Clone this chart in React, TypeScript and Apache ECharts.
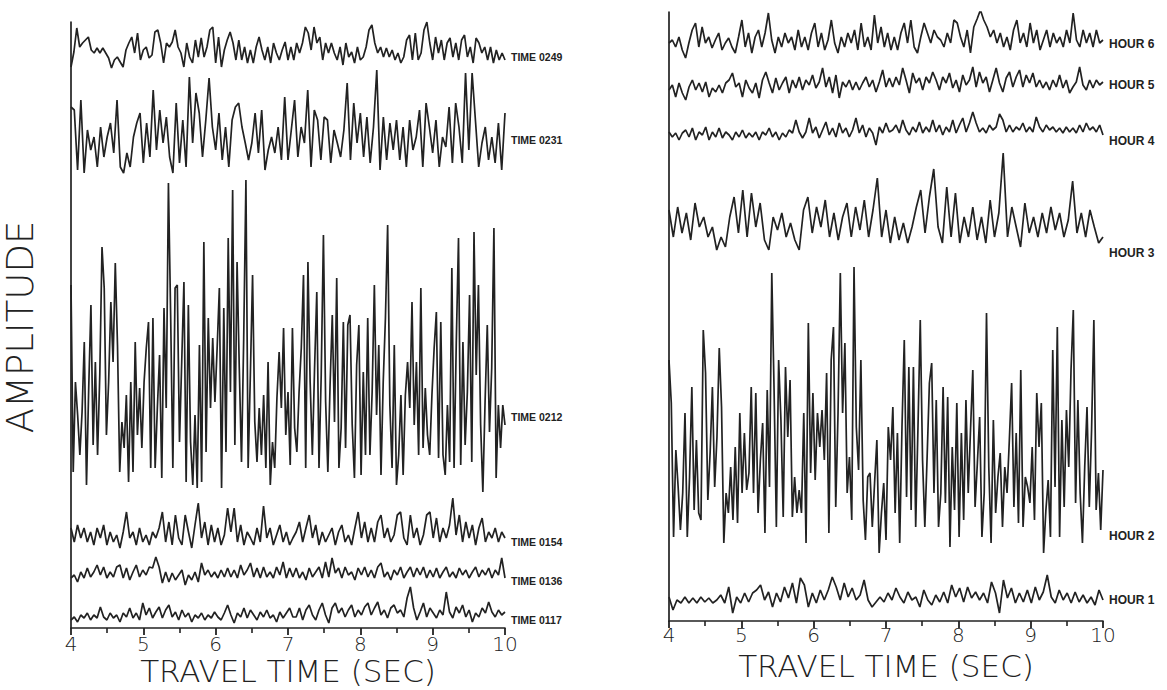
import React, { useEffect, useRef } from "react";
import * as echarts from "echarts";

// Travel time range (seconds)
const T_MIN = 4;
const T_MAX = 10;

// Left panel traces (amplitude readings, evenly spaced over 4-10 s)
const time0249 = [-10, 5, 29, 10, 14, 17, 20, 7, 4, 9, 4, 9, 4, -1, -11, -3, 0, -5, -10, 7, 14, 20, 4, 24, -3, 7, 10, -1, 2, 25, 27, 14, -6, 14, 10, 15, 27, 10, 4, -10, 14, 0, -6, 17, 0, 19, 0, 10, 27, 30, -6, 20, -10, 7, 17, 25, 14, -3, 17, -3, 10, -6, 7, -6, 10, 20, 7, -3, 10, -6, 14, 4, -3, 7, 15, -3, 10, -3, 14,
  4, 14, 30, 24, 7, 30, 14, 20, -3, 14, 4, 14, 4, -3, 10, -8, 14, 0, 5, -6, 10, -3, 0, 10, 27, 32, 14, 4, 10, 0, 9, 0, 7, -3, 4, -6, 0, 17, 22, -3, 24, -3, 4, 27, 35, 14, -3, 20, 4, 17, -3, 14, 19, 0, 14, -3, 17, 22, 0, 10, -6, 19, 14, 4, 10, -3, 10, -6, 7, -3, 4, -3];
const time0231 = [33, 30, -30, 40, -33, 10, -10, 3, -27, 13, -17, 3, 17, -13, 40, -27, -33, -13, -27, 3, 17, 27, -23, 17, -17, 50, -10, 30, -3, 23, -17, -33, 37, -23, 20, -27, 63, -3, 47, 27, -17, 20, 62, 13, -10, 27, -20, 13, -27, 20, 33, 37, 13, -3, -20, -3, 27, -13, 30, -30, -10, 3, -13, 13, -20, 43, -20, 10,
  40, -17, 13, -3, 50, -27, 30, 20, -20, 23, 20, -23, 10, -3, -17, 10, 57, -20, 37, -3, 27, -17, 23, -23, 13, 70, -30, 23, -20, 17, -10, 20, -20, 13, -27, 20, -10, 3, 30, -27, 37, 13, -13, 20, -27, 3, -7, 33, -23, 37, 13, -23, 67, -10, 67, 20, -27, -3, 13, -20, 3, -23, 17, -30, 27];
const time0212 = [132, -55, 35, 2, -38, 5, 75, -68, 29, 112, -28, 55, -38, 42, 170, 129, -18, 35, 115, 55, 154, 72, -55, -5, -31, 22, -65, 35, -55, 75, -18, 29, -31, 35, 69, 95, -51, 99, -51, 9, 62, -61, 109, 9, 234, 102, -51, 129, 132, -25, 55, 135, -65, 112, -25, -68, 2, -71, 72, -65, 175, -35, 99, 9, 79, 15, 69, 129, -71, 109, -35, 179, 25, 227, -28, 155, 49, -45, 79, 237, -51, 42, 142, -5, -45, 9, -38, 22, -51, 55, -68, -25, -51, 19, 65, 9, 89, -18, 25, -48,
  89, -11, -35, 25, 69, 142, -51, 155, 35, -38, 49, 125, -51, 42, 182, 15, -55, 32, 102, -5, 139, -51, -11, 95, -31, 92, 102, -8, -61, 52, 92, -58, 45, -38, 99, -38, 25, 132, 2, 72, -58, 35, 99, 192, 12, -51, 72, -68, -38, 22, -58, 22, 55, 9, 115, -8, 55, -38, 129, -31, 29, -18, -38, 22, 69, 105, -41, 95, -38, -58, 12, -45, 149, -51, 75, 179, -48, 75, -28, 25, 122, -45, 185, 42, 132, -8, -75, 15, 92, -15, 49, 189, -61, 12, -31, 12, -8];
const time0154 = [14, 0, 17, 4, 14, 0, 10, -3, 14, 4, 17, -3, 10, 0, 7, -6, 10, 30, 4, 10, -3, 14, 0, 7, -3, 10, 4, 14, 30, 0, 20, -3, 27, 4, -3, 27, 10, -6, 17, 39, 4, 20, -3, 17, 0, 14, -3, 7, 34, 10, 34, 0, 17, -3, 10, 4, -3, 14, 0, 36, 4, 14, -3, 7, 17, 0, 10, -3, 4,
  10, 20, 0, 14, 27, 4, 17, -3, 10, 0, 7, 14, -3, 10, 17, 0, 7, -3, 14, 30, 4, 20, 0, 14, 0, 20, 27, 4, 14, 0, 7, 27, 30, 4, -3, 27, 4, 14, -3, 7, 27, 30, 4, 24, 0, 14, 4, 17, 44, 7, 27, 0, 20, 4, 17, -3, 14, 24, 0, 10, 4, 14, 0, 10, 4];
const time0136 = [3, 6, -1, 9, 3, 13, 4, 9, 16, 6, 14, 3, 9, 4, 14, 16, 3, 13, 1, 9, 16, 4, 11, 6, 14, 13, 24, 14, -2, 9, -1, 8, 1, 6, 11, -4, 6, 1, 9, -1, 18, 6, 11, 4, 9, 3, 11, 4, 13, 4, 11, 3, 16, 6, 11, 18, 4, 13, 3, 14, 4, 9, 3, 14, 6, 19, 3, 13, 4,
  13, 3, 9, 1, 13, 4, 9, 14, 3, 19, 4, 23, 8, 13, 3, 14, 6, 9, 1, 13, 6, 14, 4, 11, 3, 14, 18, 4, 9, 1, 11, 6, 14, 3, 9, 14, 4, 13, 6, 14, 3, 11, 4, 13, 3, 9, 14, 4, 9, 3, 13, 6, 11, 3, 9, 14, 4, 11, 6, 13, 3, 11, 6, 23, 3];
const time0117 = [0, 3, -2, 5, 2, 7, 0, 5, 2, 13, 3, 0, 7, 2, 5, -2, 7, 3, 12, 2, 7, 0, 17, 5, 12, 2, 8, 13, 2, 10, 15, 3, 8, 0, 10, 3, 7, -2, 5, 2, 7, 0, 5, 2, 8, 3, 0, 7, 15, 5, -3, 7, 3, 12, 2, 10, 5, 0, 8, 3, 10, 2, 5, -2, 8, 2, 7, 12, 3,
  3, 12, 0, 10, 15, 5, 0, 10, 17, 5, -3, 12, 17, 7, 12, 3, 10, 15, 3, 10, 5, 13, 17, 5, 12, 18, 5, 10, 2, 12, 15, 7, 10, 3, 22, 33, 12, 0, 8, 17, 3, 12, 7, 2, 10, 5, 28, 8, 2, 13, 7, 15, 3, 10, -2, 7, 3, 12, 7, 18, 8, 3, 10, 5, 8];

// Right panel traces
const hour6 = [1, 4, -3, 7, -6, -14, 1, 14, 21, -3, 17, 1, 7, -4, 4, 11, -6, 1, 6, -3, -9, 7, 24, -3, 11, -9, 7, 14, -3, 11, 31, 4, -9, 7, -3, 11, 1, 7, -6, 14, -3, 7, -6, 11, 21, -3, 11, -6, 4, 24, 1, -9, 7, -3, 11, 1, 14, -6, 21, -3, 7, -6, 29, 1, 17, -3, 11, -6,
  7, -6, 11, 21, 1, 24, -3, -9, 7, 21, 11, 1, 14, 7, 4, -3, 11, 1, 24, 21, 7, -3, 14, -9, 17, 25, 34, 24, 17, 7, 14, 1, 11, -3, 7, -6, 14, 24, 1, 11, -3, 21, 1, 14, -6, 4, 14, -3, 11, 1, 7, -3, 14, 1, 31, 4, -3, 14, 1, 11, -3, 14, 1, 4];
const hour5 = [-5, 0, -12, 2, -8, -15, -2, 5, -5, 2, -7, 3, -12, -3, -7, 0, -8, 2, 5, 12, -2, 2, -12, 5, -3, -8, 2, -13, 5, 13, 2, -8, 7, -5, 2, 8, -8, 5, -3, 8, -5, 5, 0, 10, -3, 3, 17, -2, 8, -8, 10, -13, 3, -2, 5, -5, 3, -5, 2, 8, -2, 5, -7, 3, 15, -2, 7,
  -2, 8, 0, 17, 5, -8, 12, 2, 7, -5, 8, 2, 13, 5, -5, 8, 2, 12, -3, 5, -7, 10, 0, 5, 18, -2, 13, 2, 8, -7, 5, 17, 2, -7, 7, 13, -2, 8, 15, -2, 10, 2, 12, -2, 5, -3, 3, -5, 5, -2, 10, -3, 5, -8, -2, 3, 18, 0, -5, 5, -3, 5, 0, 3];
const hour4 = [9, 4, 8, 1, 8, 11, 4, 13, 1, 9, 6, 14, 1, 9, 4, 13, 3, 9, 6, 1, 9, 4, 11, 3, 8, 4, 9, 1, 9, 6, 13, 4, 9, 1, 8, 4, 11, 8, 21, 9, 3, 9, 23, 8, 14, 3, 11, 19, 6, 13, 4, 18, 8, 13, 4, 11, 23, 8, 16, 4, 13, 8, -4, 14, 8, 18, 9,
  11, 16, 8, 21, 11, 6, 14, 9, 19, 8, 14, 9, 21, 9, 16, 6, 14, 9, 21, 8, 16, 23, 9, 18, 29, 18, 9, 13, 8, 16, 11, 14, 27, 21, 9, 16, 9, 14, 11, 18, 9, 14, 9, 24, 14, 9, 16, 11, 14, 9, 13, 8, 14, 9, 13, 8, 16, 9, 18, 11, 14, 9, 16, 6];
const hour3 = [43, 16, 46, 20, 40, 13, 50, 26, 36, 16, 26, 3, 16, 6, 36, 56, 20, 63, 16, 60, 26, 50, 13, 3, 36, 23, 40, 16, 30, 13, 3, 43, 56, 20, 46, 26, 53, 16, 40, 13, 36, 50, 16, 46, 23, 53, 16, 43, 75, 16, 43, 10, 36, 13, 30, 10, 26, 46, 63, 20, 56, 84, 26, 10, 66, 16, 60, 10, 36, 16, 46, 13, 36, 10, 53, 16, 40, 100, 16, 46, 26, 6, 50, 20, 36, 16, 40, 20, 46, 23, 40, 16, 33, 72, 20, 40, 16, 43, 26, 10, 16];
const hour2 = [176, 133, -1, 86, 49, 6, 43, 123, -1, 59, 149, 26, 96, 23, 16, 206, 163, 36, 83, 149, 49, 99, 188, 129, -7, 43, 23, 69, 16, 89, 13, 123, 43, 103, 46, 63, 149, 43, 143, 23, 76, 113, 3, 146, 49, 263, 146, 9, 176, 116, 19, 169, 99, 156, 19, 59, 23, 46, 23, 123, -7, 213, 63, 143, 56, 123, 89, 126, 76, 163, 3, 176, 209, 29, 123, 263, 123, 193, 43, 79, 16, 269, 109, 66, 176, 36, -4, 59, 63, 9, 53, 96, -17, 23, 53, -4, 109, 76, 129, 23, 103, -7,
  109, 196, 39, 169, 26, 169, 9, 109, 216, 76, 9, 79, 153, 173, 43, 136, 9, 43, 149, 33, 139, -11, 89, 26, 133, -1, 103, 16, 136, 43, 106, 166, 29, 73, 119, -1, 43, 223, 69, -7, 116, 23, 59, 83, 9, 69, 43, 96, 153, 29, 103, 13, 166, 9, 59, 49, 33, 89, 16, 143, 89, 133, -17, 26, 56, -1, 186, 49, 209, -1, 116, 29, 126, 69, 166, 226, 33, 136, 43, -7, 69, 129, 29, 106, 216, 26, 63, 6, 66];
const hour1 = [3, -10, 0, -3, 3, -3, 2, -3, 3, -2, 2, -3, 0, 5, -3, 13, -13, 3, -3, 7, -2, 7, 10, 15, 0, 8, -7, 7, -2, 13, 2, 17, -3, 22, 15, -7, 7, -3, 10, 0, 10, 23, 13, 0, 17, 3, 12, 0, 5, 20, 0, -7, -2, 3, -2, 7, 0, 12, 3, -3, 8, 0, 3, -7, 10, 0, -5, 5, -2, 8, -3, 15, 3, 12, -2, 13, 2, 8, 0, 7, -3, 18, 7, -13, 20, 2, 12, -3, 7, -2, 10, -3, 13, 0, 8, 25, 3, -3, 10, 0, 7, -3, 8, -2, 5, -3, 3, -5, 10, 0];

const leftTraces = [time0249, time0231, time0212, time0154, time0136, time0117];
const leftNames = ["TIME 0249", "TIME 0231", "TIME 0212", "TIME 0154", "TIME 0136", "TIME 0117"];
const leftBaselines = [571, 488, 211, 86, 47, 8];
const leftAmpMax = 606;

const rightTraces = [hour6, hour5, hour4, hour3, hour2, hour1];
const rightNames = ["HOUR 6", "HOUR 5", "HOUR 4", "HOUR 3", "HOUR 2", "HOUR 1"];
const rightBaselines = [577, 536, 480, 368, 85, 21];
const rightAmpMax = 609;

const X_TITLE = "TRAVEL TIME (SEC)";
const Y_TITLE = "AMPLITUDE";

const INK = "#222222";
const FONT = "Liberation Sans, Arial, sans-serif";
const TITLE_FONT = "DejaVu Sans, sans-serif";

function traceSeries(values: number[], base: number, name: string, idx: number, labelSize: number) {
  const n = values.length;
  return {
    type: "line",
    name,
    xAxisIndex: idx,
    yAxisIndex: idx,
    data: values.map((v, i) => [T_MIN + ((T_MAX - T_MIN) * i) / (n - 1), base + v]),
    symbol: "none",
    silent: true,
    lineStyle: { color: INK, width: 1.7 },
    markLine: {
      silent: true,
      symbol: "none",
      lineStyle: { color: "rgba(0,0,0,0)", width: 0 },
      label: {
        show: true,
        position: "end",
        distance: 6,
        formatter: name,
        color: INK,
        fontFamily: FONT,
        fontWeight: "bold",
        fontSize: labelSize,
      },
      data: [{ yAxis: base }],
    },
  };
}

function xAxisFor(idx: number, labelMargin: number) {
  return {
    gridIndex: idx,
    type: "value",
    min: T_MIN,
    max: T_MAX,
    interval: 1,
    axisLine: { show: true, onZero: false, lineStyle: { color: INK, width: 1.7 } },
    axisTick: { show: true, inside: false, length: 7, lineStyle: { color: INK, width: 1.8 } },
    minorTick: { show: true, splitNumber: 2, length: 5, lineStyle: { color: INK, width: 1.6 } },
    splitLine: { show: false },
    axisLabel: {
      fontSize: 20,
      lineHeight: 16,
      color: INK,
      fontFamily: TITLE_FONT,
      fontWeight: 300,
      margin: labelMargin,
    },
  };
}

function yAxisFor(idx: number, max: number) {
  return {
    gridIndex: idx,
    type: "value",
    min: 0,
    max,
    axisLine: { show: true, onZero: false, lineStyle: { color: INK, width: 1.7 } },
    axisTick: { show: false },
    axisLabel: { show: false },
    splitLine: { show: false },
  };
}

function titleText(text: string, x: number, y: number, size: number, rotation = 0) {
  return {
    type: "text",
    x,
    y,
    rotation,
    style: {
      text,
      font: `200 ${size}px ${TITLE_FONT}`,
      lineHeight: Math.round(size * 0.75),
      fill: INK,
      textAlign: "center",
      textVerticalAlign: "middle",
    },
  };
}

export default function App() {
  const ref = useRef<HTMLDivElement>(null);
  useEffect(() => {
    if (!ref.current) return;
    const chart = echarts.init(ref.current, undefined, { renderer: "svg" });
    const series: any[] = [];
    leftTraces.forEach((tr, k) => series.push(traceSeries(tr, leftBaselines[k], leftNames[k], 0, 10.5)));
    rightTraces.forEach((tr, k) => series.push(traceSeries(tr, rightBaselines[k], rightNames[k], 1, 12)));
    chart.setOption({
      animation: false,
      backgroundColor: "#ffffff",
      grid: [
        { left: 71, top: 22, width: 434, height: 606, containLabel: false, outerBoundsMode: "none" },
        { left: 669, top: 12, width: 434, height: 609, containLabel: false, outerBoundsMode: "none" },
      ],
      xAxis: [xAxisFor(0, 8), xAxisFor(1, 6)],
      yAxis: [yAxisFor(0, leftAmpMax), yAxisFor(1, rightAmpMax)],
      graphic: [
        titleText(Y_TITLE, 20, 327, 37, Math.PI / 2),
        titleText(X_TITLE, 288, 671, 31),
        titleText(X_TITLE, 886, 666, 31),
      ],
      series,
    });
    return () => chart.dispose();
  }, []);
  return (
    <div
      ref={ref}
      style={{ position: "fixed", left: 0, top: 0, width: 1167, height: 690, background: "#fff" }}
    />
  );
}
